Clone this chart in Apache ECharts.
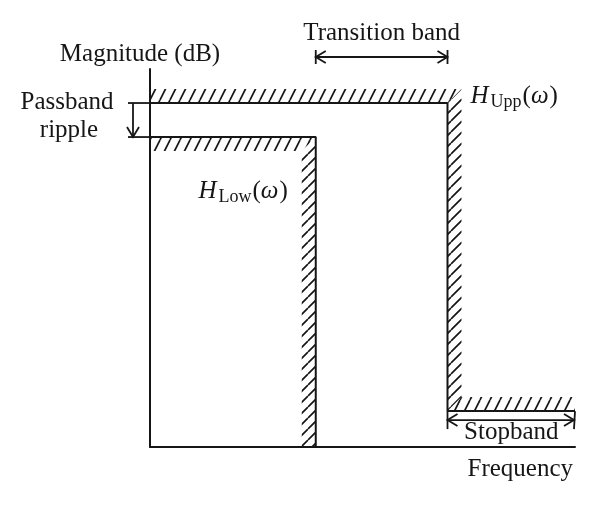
<!DOCTYPE html>
<html>
<head>
<meta charset="utf-8">
<script src="https://cdn.jsdelivr.net/npm/echarts@6/dist/echarts.min.js"></script>
<style>
html, body { margin: 0; padding: 0; background: #fff; }
#main { width: 600px; height: 506px; }
</style>
</head>
<body>
<div id="main"></div>
<script>
// tolerance scheme, frequency 0..100, magnitude 0..100
var upperFreq = [0, 70, 70, 100];
var upperMag = [91, 91, 9.5, 9.5];
var lowerFreq = [0, 39, 39];
var lowerMag = [82, 82, 0];
var transitionBand = [39, 70];
var stopband = [70, 100];
var rippleMag = [91, 82];

var FONT = '"Liberation Serif", "DejaVu Serif", serif';
var FS = 25;
var INK = '#161616';
var HATCH = 14;

function pairs(xs, ys){
    return xs.map(function(x, i){ return [x, ys[i]]; });
}

// diagonal hatch tile
function makeHatch(w, h){
    var c = document.createElement('canvas');
    c.width = w;
    c.height = h;
    var ctx = c.getContext('2d');
    ctx.strokeStyle = INK;
    ctx.lineWidth = 1.7;
    ctx.beginPath();
    [-w, 0, w].forEach(function(s){
        ctx.moveTo(s, h);
        ctx.lineTo(s + w, 0);
    });
    ctx.stroke();
    return { image: c, repeat: 'repeat' };
}
var hatchH = makeHatch(10, 20);
var hatchV = makeHatch(11, 11);

var mctx = document.createElement('canvas').getContext('2d');
function textWidth(str, font){
    mctx.font = font;
    return mctx.measureText(str).width;
}

function seg(p1, p2){
    return { type: 'line', shape: { x1: p1[0], y1: p1[1], x2: p2[0], y2: p2[1] },
        style: { stroke: INK, lineWidth: 1.8 } };
}

// open arrow head, dir points toward the tip
function head(tip, dir){
    var L = 10, H = 6;
    var bx = tip[0] - dir[0] * L, by = tip[1] - dir[1] * L;
    return { type: 'polyline',
        shape: { points: [[bx - dir[1] * H, by + dir[0] * H], tip, [bx + dir[1] * H, by - dir[0] * H]] },
        style: { stroke: INK, lineWidth: 1.8, fill: null } };
}

// text placed by its baseline
function txt(str, x, base, align, font){
    return { type: 'text', x: x, y: base - 8,
        style: { text: str, font: font || (FS + 'px ' + FONT), fill: INK, align: align, verticalAlign: 'middle' } };
}

// H_sub(ω) with the right edge or left edge given
function hLabel(sub, x, base, align){
    var fIt = 'italic ' + FS + 'px ' + FONT, fUp = FS + 'px ' + FONT, fSub = '18px ' + FONT;
    var parts = [['H', fIt, 0, 2], [sub, fSub, 6, 1], ['(', fUp, 0, 0], ['\u03c9', fIt, 0, 1], [')', fUp, 0, 0]];
    var total = 0;
    parts.forEach(function(p){ total += textWidth(p[0], p[1]) + p[3]; });
    var cx = align === 'right' ? x - total : x;
    return parts.map(function(p){
        var el = txt(p[0], cx, base + p[2], 'left', p[1]);
        cx += textWidth(p[0], p[1]) + p[3];
        return el;
    });
}

function hatchSeries(xs, ys, side){
    return {
        type: 'custom',
        coordinateSystem: 'cartesian2d',
        silent: true,
        z: 1,
        data: [[xs[0], ys[0]]],
        renderItem: function(params, api){
            var pts = xs.map(function(x, i){ return api.coord([x, ys[i]]); });
            var nrm = [];
            for (var i = 0; i < pts.length - 1; i++){
                var dx = pts[i + 1][0] - pts[i][0], dy = pts[i + 1][1] - pts[i][1];
                var len = Math.sqrt(dx * dx + dy * dy);
                nrm.push([side * dy / len, -side * dx / len]);
            }
            var off = pts.map(function(p, i){
                var a = nrm[Math.max(i - 1, 0)], b = nrm[Math.min(i, nrm.length - 1)];
                var k = HATCH / (1 + a[0] * b[0] + a[1] * b[1]);
                return [p[0] + (a[0] + b[0]) * k, p[1] + (a[1] + b[1]) * k];
            });
            var children = [];
            for (i = 0; i < nrm.length; i++){
                var horiz = Math.abs(nrm[i][1]) > Math.abs(nrm[i][0]);
                children.push({ type: 'polygon',
                    shape: { points: [pts[i], pts[i + 1], off[i + 1], off[i]] },
                    style: { fill: horiz ? hatchH : hatchV, stroke: null } });
            }
            return { type: 'group', children: children };
        }
    };
}

var annotations = {
    type: 'custom',
    coordinateSystem: 'cartesian2d',
    silent: true,
    z: 5,
    data: [[0, 0]],
    renderItem: function(params, api){
        var c = [];
        // passband ripple
        var r0 = api.coord([0, rippleMag[0]]), r1 = api.coord([0, rippleMag[1]]);
        var ax = r0[0] - 17;
        c.push(seg([r0[0] - 22, r0[1]], r0), seg([r1[0] - 22, r1[1]], r1));
        c.push(seg([ax, r0[1]], [ax, r1[1]]), head([ax, r1[1]], [0, 1]));
        c.push(txt('Passband', ax - 66, r0[1] + 7, 'center'));
        c.push(txt('ripple', ax - 64, r1[1] + 1, 'center'));

        // transition band
        var t0 = api.coord([transitionBand[0], 100]), t1 = api.coord([transitionBand[1], 100]);
        var ty = t0[1] - 12;
        c.push(seg([t0[0], ty - 7], [t0[0], ty + 7]), seg([t1[0], ty - 7], [t1[0], ty + 7]));
        c.push(seg([t0[0], ty], [t1[0], ty]), head([t0[0], ty], [-1, 0]), head([t1[0], ty], [1, 0]));
        c.push(txt('Transition band', (t0[0] + t1[0]) / 2, ty - 16, 'center'));

        // stopband
        var s0 = api.coord([stopband[0], upperMag[3]]), s1 = api.coord([stopband[1], upperMag[3]]);
        var sy = s0[1] + 9;
        c.push(seg(s0, [s0[0], s0[1] + 18]), seg(s1, [s1[0] - 1, s1[1] + 18]));
        c.push(seg([s0[0], sy], [s1[0] - 1, sy]), head([s0[0], sy], [-1, 0]), head([s1[0] - 1, sy], [1, 0]));
        c.push(txt('Stopband', (s0[0] + s1[0]) / 2, sy + 20, 'center'));

        // curve names
        var u = api.coord([upperFreq[1], upperMag[1]]);
        c = c.concat(hLabel('Upp', u[0] + 23, u[1] + 1, 'left'));
        var l = api.coord([lowerFreq[1], lowerMag[1]]);
        c = c.concat(hLabel('Low', l[0] - 28, l[1] + 62, 'right'));
        return { type: 'group', children: c };
    }
};

var chart = echarts.init(document.getElementById('main'));
chart.setOption({
    animation: false,
    backgroundColor: '#fff',
    grid: { left: 150, right: 25, top: 69, bottom: 59, outerBoundsMode: 'none' },
    xAxis: {
        type: 'value', min: 0, max: 100,
        name: 'Frequency', nameLocation: 'end', nameGap: -2,
        nameTextStyle: { fontFamily: FONT, fontSize: FS, color: INK, align: 'right', verticalAlign: 'top', padding: [10, 0, 0, 0] },
        axisLine: { lineStyle: { color: INK, width: 2 } },
        axisTick: { show: false }, axisLabel: { show: false }, splitLine: { show: false }
    },
    yAxis: {
        type: 'value', min: 0, max: 100,
        name: 'Magnitude (dB)', nameLocation: 'end', nameGap: 2,
        nameTextStyle: { fontFamily: FONT, fontSize: FS, color: INK, align: 'center', verticalAlign: 'bottom', padding: [0, 20, 0, 0] },
        axisLine: { lineStyle: { color: INK, width: 2 } },
        axisTick: { show: false }, axisLabel: { show: false }, splitLine: { show: false }
    },
    series: [
        hatchSeries(upperFreq, upperMag, 1),
        hatchSeries(lowerFreq, lowerMag, -1),
        {
            type: 'line', name: 'Upper', data: pairs(upperFreq, upperMag),
            showSymbol: false, z: 3, silent: true,
            lineStyle: { color: INK, width: 2 }
        },
        {
            type: 'line', name: 'Lower', data: pairs(lowerFreq, lowerMag),
            showSymbol: false, z: 3, silent: true,
            lineStyle: { color: INK, width: 2 }
        },
        annotations
    ]
});
</script>
</body>
</html>
